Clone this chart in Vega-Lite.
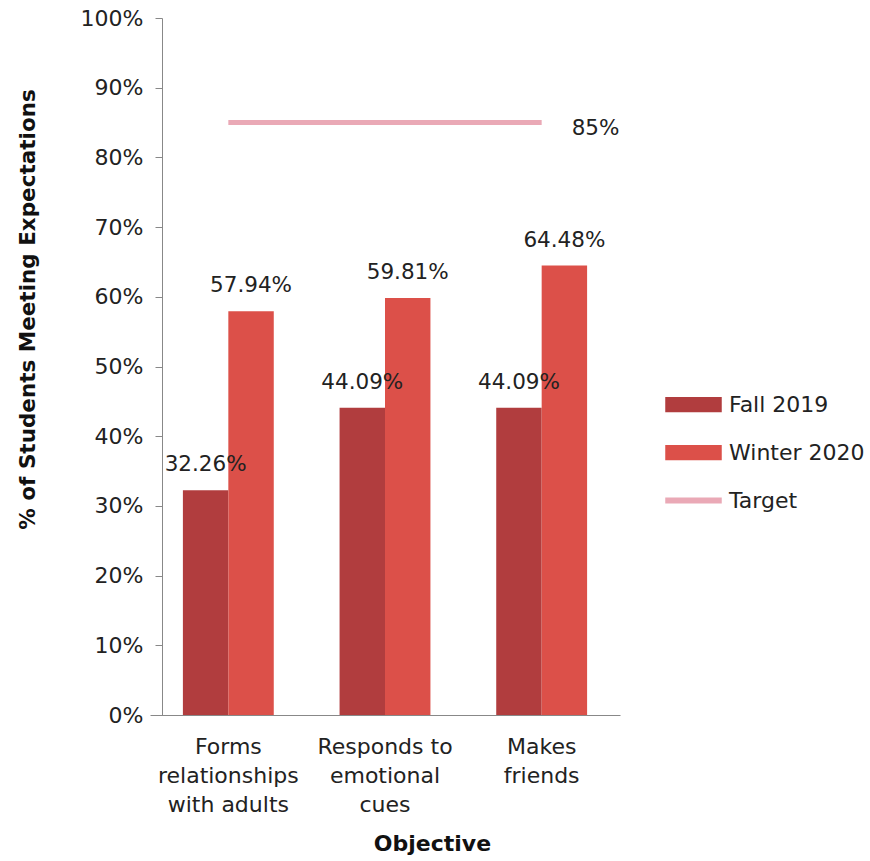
{
  "$schema": "https://vega.github.io/schema/vega-lite/v6.json",
  "autosize": "none",
  "width": 470,
  "height": 697,
  "padding": {"left": 150, "top": 18, "right": 250, "bottom": 146},
  "background": "white",
  "config": {
    "font": "DejaVu Sans",
    "view": {"stroke": null},
    "axis": {"grid": false, "labelColor": "#222", "titleColor": "#111", "domainColor": "#888", "tickColor": "#888"}
  },
  "datasets": {
    "bars": [
      {"objective": "Forms relationships with adults", "series": "Fall 2019", "value": 0.3226},
      {"objective": "Forms relationships with adults", "series": "Winter 2020", "value": 0.5794},
      {"objective": "Responds to emotional cues", "series": "Fall 2019", "value": 0.4409},
      {"objective": "Responds to emotional cues", "series": "Winter 2020", "value": 0.5981},
      {"objective": "Makes friends", "series": "Fall 2019", "value": 0.4409},
      {"objective": "Makes friends", "series": "Winter 2020", "value": 0.6448}
    ],
    "target": [
      {"objective": "Forms relationships with adults", "series": "Target", "value": 0.85},
      {"objective": "Responds to emotional cues", "series": "Target", "value": 0.85},
      {"objective": "Makes friends", "series": "Target", "value": 0.85}
    ]
  },
  "encoding": {
    "x": {
      "field": "objective",
      "type": "nominal",
      "sort": ["Forms relationships with adults", "Responds to emotional cues", "Makes friends"],
      "scale": {"paddingInner": 0.42, "paddingOuter": 0.21},
      "axis": {
        "title": "Objective",
        "titleFontSize": 22,
        "titleFontWeight": "bold",
        "titleX": 282,
        "titleY": 128,
        "titleBaseline": "middle",
        "titleAlign": "center",
        "labelAngle": 0,
        "labelFontSize": 22,
        "labelLineHeight": 29,
        "labelBaseline": "top",
        "labelPadding": 21,
        "ticks": false,
        "labelExpr": "datum.label == 'Forms relationships with adults' ? ['Forms', 'relationships', 'with adults'] : datum.label == 'Responds to emotional cues' ? ['Responds to', 'emotional', 'cues'] : ['Makes', 'friends']"
      }
    },
    "y": {
      "field": "value",
      "type": "quantitative",
      "scale": {"domain": [0, 1]},
      "axis": {
        "title": "% of Students Meeting Expectations",
        "titleFontSize": 21.5,
        "titleFontWeight": "bold",
        "titleX": -134,
        "titleY": 291,
        "titleAlign": "center",
        "titleBaseline": "middle",
        "titleAngle": -90,
        "offset": -12,
        "format": ".0%",
        "values": [0, 0.1, 0.2, 0.3, 0.4, 0.5, 0.6, 0.7, 0.8, 0.9, 1],
        "labelFontSize": 22,
        "tickSize": 7,
        "labelPadding": 12
      }
    }
  },
  "layer": [
    {
      "data": {"name": "bars"},
      "mark": {"type": "bar"},
      "encoding": {
        "xOffset": {"field": "series", "type": "nominal", "sort": ["Fall 2019", "Winter 2020"], "scale": {"paddingInner": 0}},
        "color": {
          "field": "series",
          "type": "nominal",
          "scale": {"domain": ["Fall 2019", "Winter 2020", "Target"], "range": ["#b13d3e", "#dc5049", "#eaa9b6"]},
          "legend": {
            "title": null,
            "orient": "none",
            "legendX": 515,
            "legendY": 358,
            "labelFontSize": 22,
            "labelColor": "#222",
            "labelOffset": 7,
            "rowPadding": 8,
            "symbolSize": 3025,
            "encode": {
              "symbols": {
                "update": {
                  "shape": {"signal": "datum.label === 'Target' ? 'M-1,-0.08H1V0.08H-1Z' : 'M-1,-0.25H1V0.25H-1Z'"},
                  "fill": {"signal": "scale('color', datum.value)"},
                  "stroke": {"value": null},
                  "opacity": {"value": 1}
                }
              }
            }
          }
        }
      }
    },
    {
      "data": {"name": "bars"},
      "mark": {"type": "text", "fontSize": 21.5, "color": "#222", "baseline": "middle", "dy": -25},
      "encoding": {
        "xOffset": {"field": "series", "type": "nominal", "sort": ["Fall 2019", "Winter 2020"], "scale": {"paddingInner": 0}},
        "text": {"field": "value", "type": "quantitative", "format": ".2%"}
      }
    },
    {
      "data": {"name": "target"},
      "mark": {"type": "line", "strokeWidth": 5},
      "encoding": {
        "color": {"field": "series", "type": "nominal"}
      }
    },
    {
      "data": {"name": "target"},
      "transform": [{"filter": "datum.objective == 'Makes friends'"}],
      "mark": {"type": "text", "fontSize": 21.5, "color": "#222", "align": "left", "baseline": "middle", "dx": 30, "dy": 6},
      "encoding": {
        "text": {"field": "value", "type": "quantitative", "format": ".0%"}
      }
    }
  ]
}
